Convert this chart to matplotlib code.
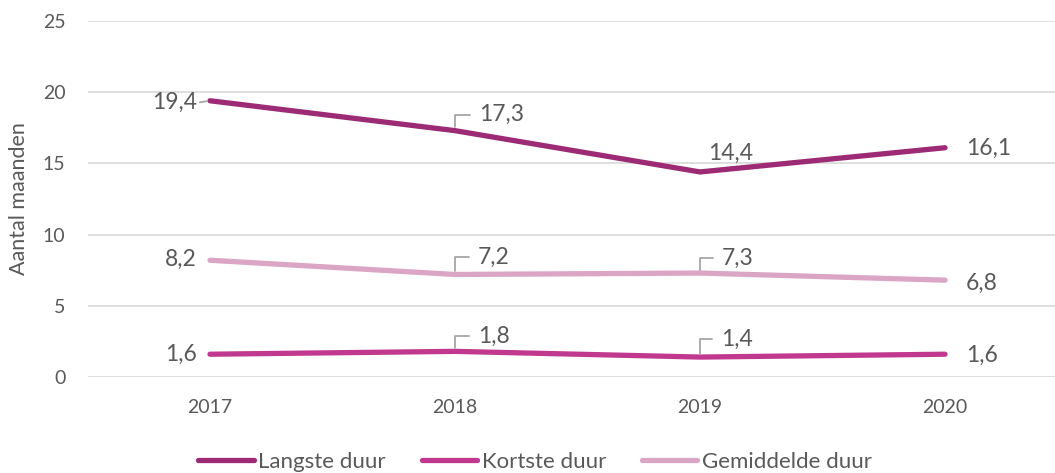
import matplotlib
matplotlib.use('Agg')
import matplotlib.pyplot as plt

# --- data ---
years = ['2017', '2018', '2019', '2020']
langste = [19.4, 17.3, 14.4, 16.1]
kortste = [1.6, 1.8, 1.4, 1.6]
gemiddeld = [8.2, 7.2, 7.3, 6.8]
series_names = ['Langste duur', 'Kortste duur', 'Gemiddelde duur']

colors = ['#9C2A74', '#C1398F', '#DBA5C5']
text_col = '#595959'
lead_col = '#A6A6A6'

plt.rcParams['font.family'] = ['Lato', 'DejaVu Sans']

fig = plt.figure(figsize=(10.55, 4.73), dpi=100)
ax = fig.add_axes([87.5 / 1055, 96 / 473, 980 / 1055, 356 / 473])

x = range(len(years))
for vals, c, name in zip([langste, kortste, gemiddeld], colors, series_names):
    ax.plot(x, vals, color=c, lw=3.8, label=name, solid_capstyle='round')

ax.set_xlim(-0.5, 3.5)
ax.set_ylim(0, 25)
ax.set_yticks(range(0, 26, 5))
ax.set_xticks(list(x))
ax.set_xticklabels(years)
ax.grid(axis='y', color='#D9D9D9', lw=1.2)
ax.set_axisbelow(True)
for s in ax.spines.values():
    s.set_visible(False)
ax.tick_params(length=0, labelsize=14, labelcolor=text_col)
ax.tick_params(axis='y', pad=16)
ax.tick_params(axis='x', pad=16)
ax.set_ylabel('Aantal maanden', fontsize=15.5, color=text_col)
ax.yaxis.set_label_coords(-0.060, 0.5)


def fmt(v):
    return f'{v:.1f}'.replace('.', ',')


# label placement per point: (dx, dy, ha, leader) in pixels
left = (-13, 0, 'right', None)
right = (21, -1, 'left', None)
label_pos = {
    'langste': [(-13, -2, 'right', 'straight'), (24, 16, 'left', 'elbow'),
                (8, 19, 'left', None), right],
    'gemiddeld': [(-13, 1, 'right', None), (23, 17, 'left', 'elbow'),
                  (22, 15, 'left', 'elbow'), (21, -3, 'left', None)],
    'kortste': [left, (23, 15, 'left', 'elbow'), (21, 18, 'left', 'elbow'), right],
}

for key, vals in [('langste', langste), ('gemiddeld', gemiddeld), ('kortste', kortste)]:
    for i, v in enumerate(vals):
        dx, dy, ha, lead = label_pos[key][i]
        kw = {}
        if lead == 'elbow':
            kw['arrowprops'] = dict(arrowstyle='-', color=lead_col, lw=1.3,
                                    connectionstyle='angle,angleA=0,angleB=90,rad=0',
                                    relpos=(0, 0.5), shrinkA=4.5, shrinkB=2.5)
        elif lead == 'straight':
            kw['arrowprops'] = dict(arrowstyle='-', color=lead_col, lw=1.3,
                                    relpos=(1, 0.5), shrinkA=0, shrinkB=2)
        ax.annotate(fmt(v), xy=(i, v), xytext=(dx, dy), textcoords='offset pixels',
                    ha=ha, va='center', fontsize=16.5, color=text_col, **kw)

leg = ax.legend(loc='center', bbox_to_anchor=(535 / 1055, 11 / 473),
                bbox_transform=fig.transFigure, ncol=3, frameon=False,
                fontsize=16, handlelength=2.5, handletextpad=0.2,
                columnspacing=1.6)
for t in leg.get_texts():
    t.set_color(text_col)

fig.savefig('out.png', dpi=100)
